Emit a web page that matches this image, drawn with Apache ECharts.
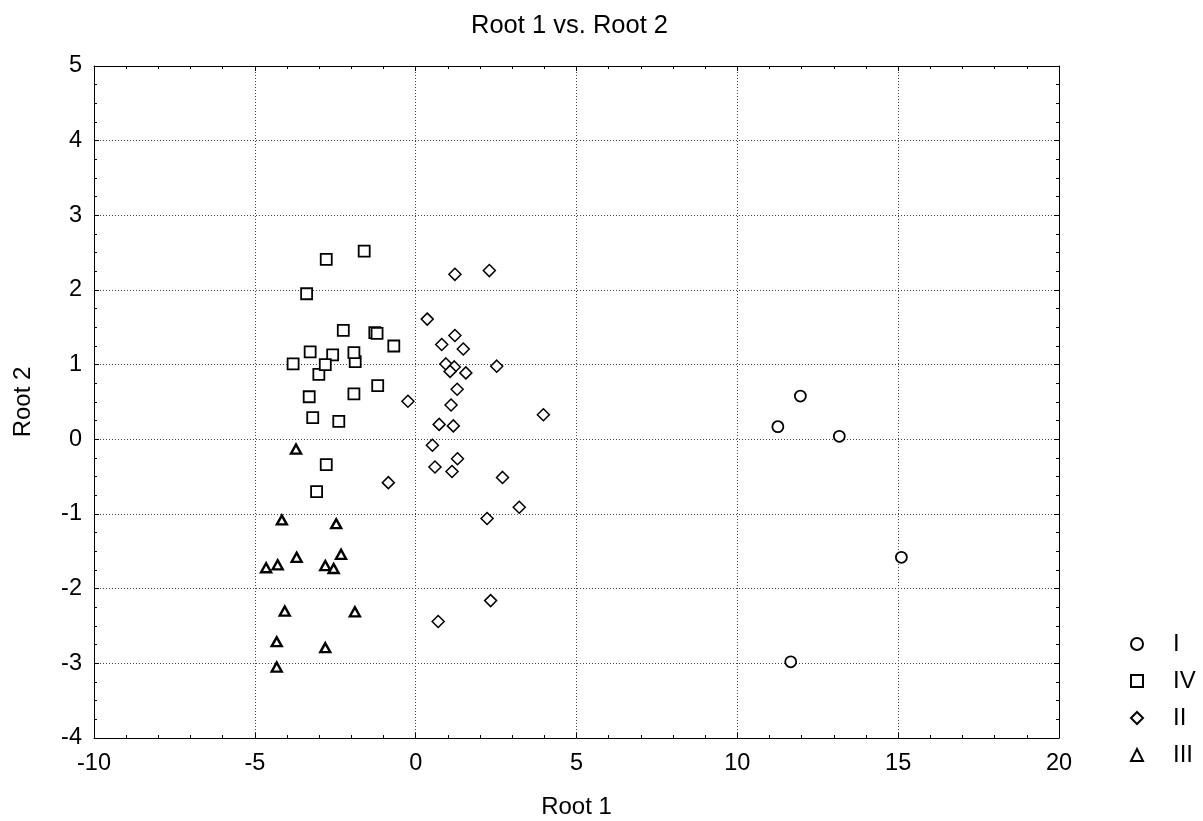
<!DOCTYPE html>
<html><head><meta charset="utf-8">
<script src="https://cdn.jsdelivr.net/npm/echarts@6/dist/echarts.min.js"></script>
<style>html,body{margin:0;padding:0;background:#fff}#c{width:1203px;height:821px}</style>
</head><body><div id="c"></div>
<script>
const seriesNames = ['I', 'IV', 'II', 'III'];
const groupI = [[11.96,0.58],[11.26,0.17],[13.17,0.04],[15.10,-1.58],[11.66,-2.98]];
const groupIV = [[-1.60,2.52],[-2.78,2.41],[-3.39,1.95],[-2.25,1.46],[-1.27,1.43],[-1.20,1.42],[-0.68,1.25],
  [-3.28,1.17],[-2.58,1.13],[-1.88,1.04],[-1.92,1.16],[-3.81,1.01],[-3.01,0.87],[-2.81,1.00],[-1.18,0.72],
  [-3.31,0.57],[-1.92,0.61],[-3.20,0.29],[-2.39,0.24],[-2.78,-0.34],[-3.08,-0.70]];
const groupII = [[1.22,2.21],[2.29,2.26],[0.36,1.61],[1.22,1.39],[0.81,1.27],[1.48,1.21],[0.94,1.01],[1.20,0.97],
  [1.07,0.91],[1.56,0.89],[2.52,0.98],[1.29,0.67],[1.10,0.46],[-0.24,0.51],[0.73,0.20],[1.17,0.18],[3.97,0.33],
  [0.52,-0.08],[0.60,-0.37],[1.30,-0.26],[1.13,-0.43],[-0.85,-0.58],[2.70,-0.51],[3.22,-0.91],[2.22,-1.06],
  [2.33,-2.16],[0.70,-2.44]];
const groupIII = [[-3.72,-0.13],[-4.16,-1.08],[-2.47,-1.13],[-3.70,-1.58],[-2.32,-1.54],[-4.65,-1.72],[-4.29,-1.68],
  [-2.81,-1.69],[-2.55,-1.73],[-4.07,-2.30],[-1.89,-2.31],[-4.32,-2.71],[-2.81,-2.79],[-4.32,-3.05]];
const xTicks = [-10, -5, 0, 5, 10, 15, 20];
const yTicks = [-4, -3, -2, -1, 0, 1, 2, 3, 4, 5];

const FONT = 'Liberation Sans, Arial, Helvetica, sans-serif';
const chart = echarts.init(document.getElementById('c'), null, {renderer: 'canvas'});

function xAxisDef(pos, primary) {
  return {
    type: 'value', position: pos, min: xTicks[0], max: xTicks[xTicks.length - 1],
    interval: xTicks[1] - xTicks[0],
    name: primary ? 'Root 1' : '', nameLocation: 'middle', nameGap: 57,
    nameTextStyle: {fontFamily: FONT, fontSize: 24, color: '#000'},
    axisLine: {show: true, onZero: false, lineStyle: {color: '#000', width: 1}},
    axisTick: {show: true, inside: true, length: 5, lineStyle: {color: '#000'}},
    minorTick: {show: true, splitNumber: 5, length: 3, lineStyle: {color: '#000'}},
    axisLabel: {show: primary, fontFamily: FONT, fontSize: 23.5, color: '#000', margin: 14},
    splitLine: {show: primary, lineStyle: {color: '#444', width: 1, type: [1, 2]}},
    minorSplitLine: {show: false}
  };
}
function yAxisDef(pos, primary) {
  return {
    type: 'value', position: pos, min: yTicks[0], max: yTicks[yTicks.length - 1],
    interval: yTicks[1] - yTicks[0],
    name: primary ? 'Root 2' : '', nameLocation: 'middle', nameGap: 59, nameRotate: 90,
    nameTextStyle: {fontFamily: FONT, fontSize: 24, color: '#000'},
    axisLine: {show: true, onZero: false, lineStyle: {color: '#000', width: 1}},
    axisTick: {show: true, inside: true, length: 5, lineStyle: {color: '#000'}},
    minorTick: {show: true, splitNumber: 4, length: 3, lineStyle: {color: '#000'}},
    axisLabel: {show: primary, fontFamily: FONT, fontSize: 23.5, color: '#000', margin: 12},
    splitLine: {show: primary, lineStyle: {color: '#444', width: 1, type: [1, 2]}},
    minorSplitLine: {show: false}
  };
}

const symbols = ['circle', 'rect', 'diamond', 'triangle'];
const sizes = [11, 11, 12, [10, 9]];
const borders = [1.8, 1.8, 1.5, 2.4];
const datas = [groupI, groupIV, groupII, groupIII];

chart.setOption({
  animation: false,
  backgroundColor: '#fff',
  title: {text: 'Root 1 vs. Root 2', left: 466, top: 8,
    textStyle: {fontFamily: FONT, fontSize: 25.5, fontWeight: 'normal', color: '#000'}},
  grid: {left: 94, top: 66, right: 144, bottom: 83, containLabel: false, outerBoundsMode: 'none'},
  xAxis: [xAxisDef('bottom', true), xAxisDef('top', false)],
  yAxis: [yAxisDef('left', true), yAxisDef('right', false)],
  legend: {
    orient: 'vertical', left: 1125, top: 627, itemWidth: 12, itemHeight: 12, itemGap: 13,
    data: seriesNames,
    textStyle: {fontFamily: FONT, fontSize: 24, color: '#000', lineHeight: 24, padding: [0, 0, 0, 25]}
  },
  series: seriesNames.map((n, i) => ({
    name: n, type: 'scatter', xAxisIndex: 0, yAxisIndex: 0,
    symbol: symbols[i], symbolSize: sizes[i], data: datas[i],
    itemStyle: {color: '#fff', borderColor: '#000', borderWidth: borders[i], opacity: 1},
    emphasis: {disabled: true}
  }))
});
</script></body></html>
